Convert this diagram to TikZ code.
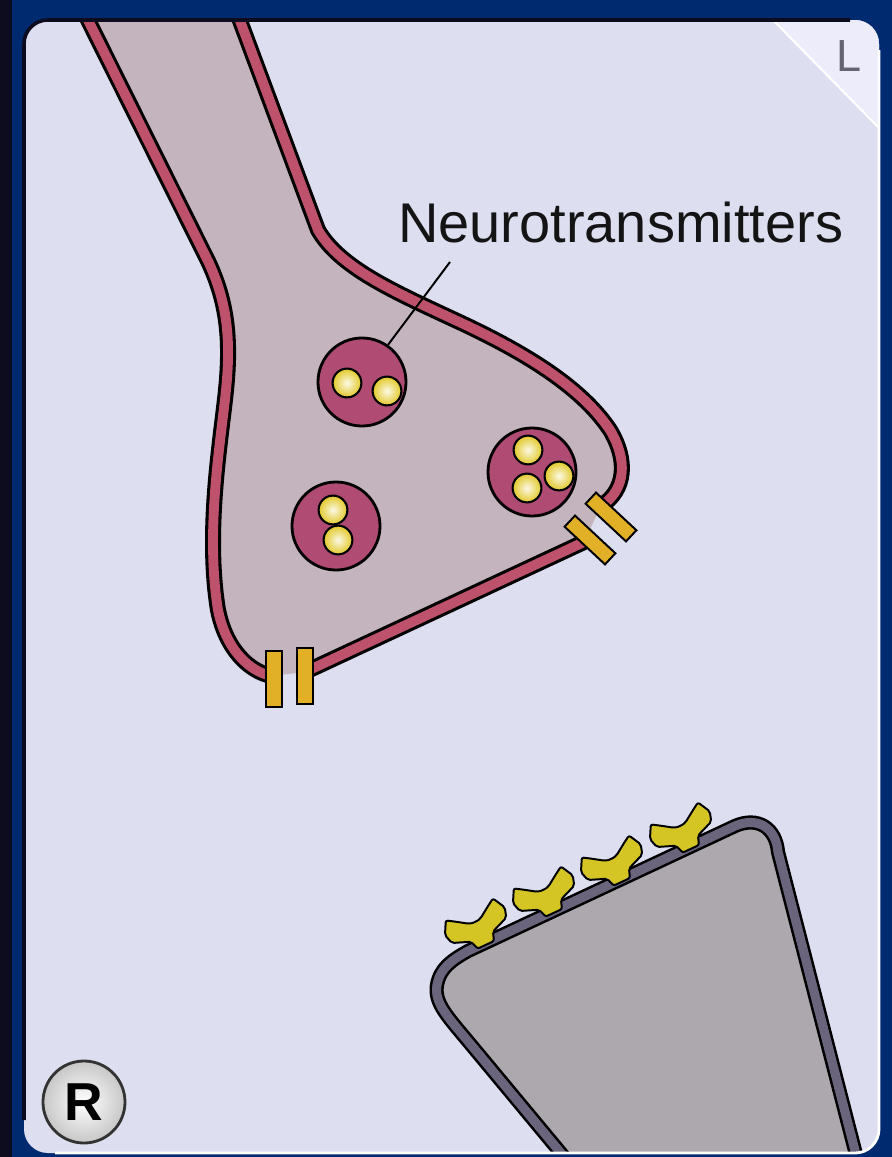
\documentclass[tikz,border=0pt]{standalone}
\usepackage{fontspec}
\setmainfont{Liberation Sans}
\usepackage{xcolor}
\usepackage{tikz}

\definecolor{frameblue}{RGB}{0,42,112}
\definecolor{edgedark}{RGB}{12,12,30}
\definecolor{panelbg}{RGB}{221,223,240}
\definecolor{foldbg}{RGB}{236,236,250}
\definecolor{axonfill}{RGB}{196,180,190}
\definecolor{membred}{RGB}{190,82,108}
\definecolor{vesred}{RGB}{176,76,116}
\definecolor{dendfill}{RGB}{172,168,174}
\definecolor{dendmemb}{RGB}{106,100,124}
\definecolor{recyellow}{RGB}{212,196,36}
\definecolor{chanorange}{RGB}{226,176,38}
\definecolor{ntyellow}{RGB}{226,200,40}
\definecolor{markgray}{RGB}{100,100,115}

\tikzset{
  receptor/.pic={
    \draw[black, line width=1.4pt, fill=recyellow, rounded corners=1.5pt]
      (-9,2) -- (9,2) -- (12,-7) -- (30,-14) -- (33,-24) -- (26,-37) -- (18,-32) -- (6,-24) -- (0,-23)
      -- (-6,-24) -- (-18,-32) -- (-26,-37) -- (-33,-24) -- (-30,-14) -- (-12,-7) -- cycle;
  }
}

\begin{document}
\begin{tikzpicture}[
    x=0.025cm, y=-0.025cm,
    membrane/.style={draw=black, line width=2.2pt, double=membred, double distance=7pt},
    dendline/.style={draw=black, line width=1.8pt, double=dendmemb, double distance=6.5pt},
    vesicle/.style={circle, draw=black, line width=2pt, fill=vesred, minimum size=2.2cm, inner sep=0pt},
    nt/.style={circle, draw=black, line width=1.5pt, inner color=ntyellow!12!white, outer color=ntyellow, minimum size=0.72cm, inner sep=0pt},
    channel/.style={draw=black, line width=1.4pt, fill=chanorange, minimum width=0.38cm, minimum height=1.38cm, inner sep=0pt},
    rbutton/.style={circle, draw=black!80, line width=2pt, inner color=white, outer color=black!22, minimum size=2.05cm, inner sep=0pt, font=\fontsize{38}{38}\bfseries\selectfont}
]
\useasboundingbox (0,0) rectangle (892,1157);
\fill[frameblue] (0,0) rectangle (892,1157);
\fill[edgedark] (0,0) rectangle (12,1157);
\fill[panelbg, rounded corners=17pt] (24,20) rectangle (879,1153);

\begin{scope}
\clip[rounded corners=17pt] (24,20) rectangle (879,1153);

\fill[axonfill] (83,10) -- (205,255) .. controls (228,300) and (231,340) .. (226,390)
  .. controls (221,440) and (205,530) .. (218,610) .. controls (226,650) and (250,672) .. (272,676)
  -- (305,672) -- (584,542) -- (601,506)
  .. controls (626,490) and (628,460) .. (610,430) .. controls (580,385) and (520,350) .. (455,320)
  .. controls (395,292) and (340,268) .. (318,230) -- (236,10) -- cycle;
\draw[membrane] (83,10) -- (205,255) .. controls (228,300) and (231,340) .. (226,390)
  .. controls (221,440) and (205,530) .. (218,610) .. controls (226,650) and (250,672) .. (272,676);
\draw[membrane] (305,672) -- (584,542);
\draw[membrane] (601,506) .. controls (626,490) and (628,460) .. (610,430)
  .. controls (580,385) and (520,350) .. (455,320)
  .. controls (395,292) and (340,268) .. (318,230) -- (236,10);

\node[channel] (ch1) at (274,679) {};
\node[channel] (ch2) at (305,676) {};
\node[channel, rotate=47] (ch3) at (611,517) {};
\node[channel, rotate=47] (ch4) at (590,540) {};

\node[vesicle] (ves1) at (362,382) {};
\node[vesicle] (ves2) at (336,526) {};
\node[vesicle] (ves3) at (532,472) {};
\node[nt] (nt1) at (347,383) {};
\node[nt] (nt2) at (387,391) {};
\node[nt] (nt3) at (333,510) {};
\node[nt] (nt4) at (338,540) {};
\node[nt] (nt5) at (528,450) {};
\node[nt] (nt6) at (527,488) {};
\node[nt] (nt7) at (559,476) {};

\fill[dendfill] (575,1170) -- (472,1046) .. controls (447,1016) and (434,1003) .. (437,985)
  .. controls (440,968) and (452,960) .. (468,951) -- (735,826)
  .. controls (758,816) and (776,828) .. (778,852) -- (860,1170) -- cycle;
\draw[dendline] (575,1170) -- (472,1046) .. controls (447,1016) and (434,1003) .. (437,985)
  .. controls (440,968) and (452,960) .. (468,951) -- (735,826)
  .. controls (758,816) and (776,828) .. (778,852) -- (860,1170);

\foreach \px/\py in {485/943, 553/911, 621/880, 690/847}
  \pic[rotate=25] at (\px,\py) {receptor};

\fill[foldbg] (773,20) -- (879,20) -- (879,128) -- cycle;
\draw[white, line width=1.5pt] (773,20) -- (879,128);
\end{scope}

\draw[edgedark, line width=2.5pt, rounded corners=17pt] (24,1120) -- (24,20) -- (850,20);
\draw[white, line width=2pt, rounded corners=17pt] (879,50) -- (879,1153) -- (55,1153);

\node[text=markgray, inner sep=0pt, font=\fontsize{32}{32}\selectfont] (lmark) at (849,56) {L};
\node[rbutton] (rbtn) at (84,1102) {R};

\node[anchor=base west, inner sep=0pt, text=black!92, font=\fontsize{39.8}{40}\selectfont] (ntlabel) at (398,242) {Neurotransmitters};
\coordinate (lead) at (450,262);
\draw[line width=1.4pt] (lead) -- (ves1.55);
\end{tikzpicture}
\end{document}
